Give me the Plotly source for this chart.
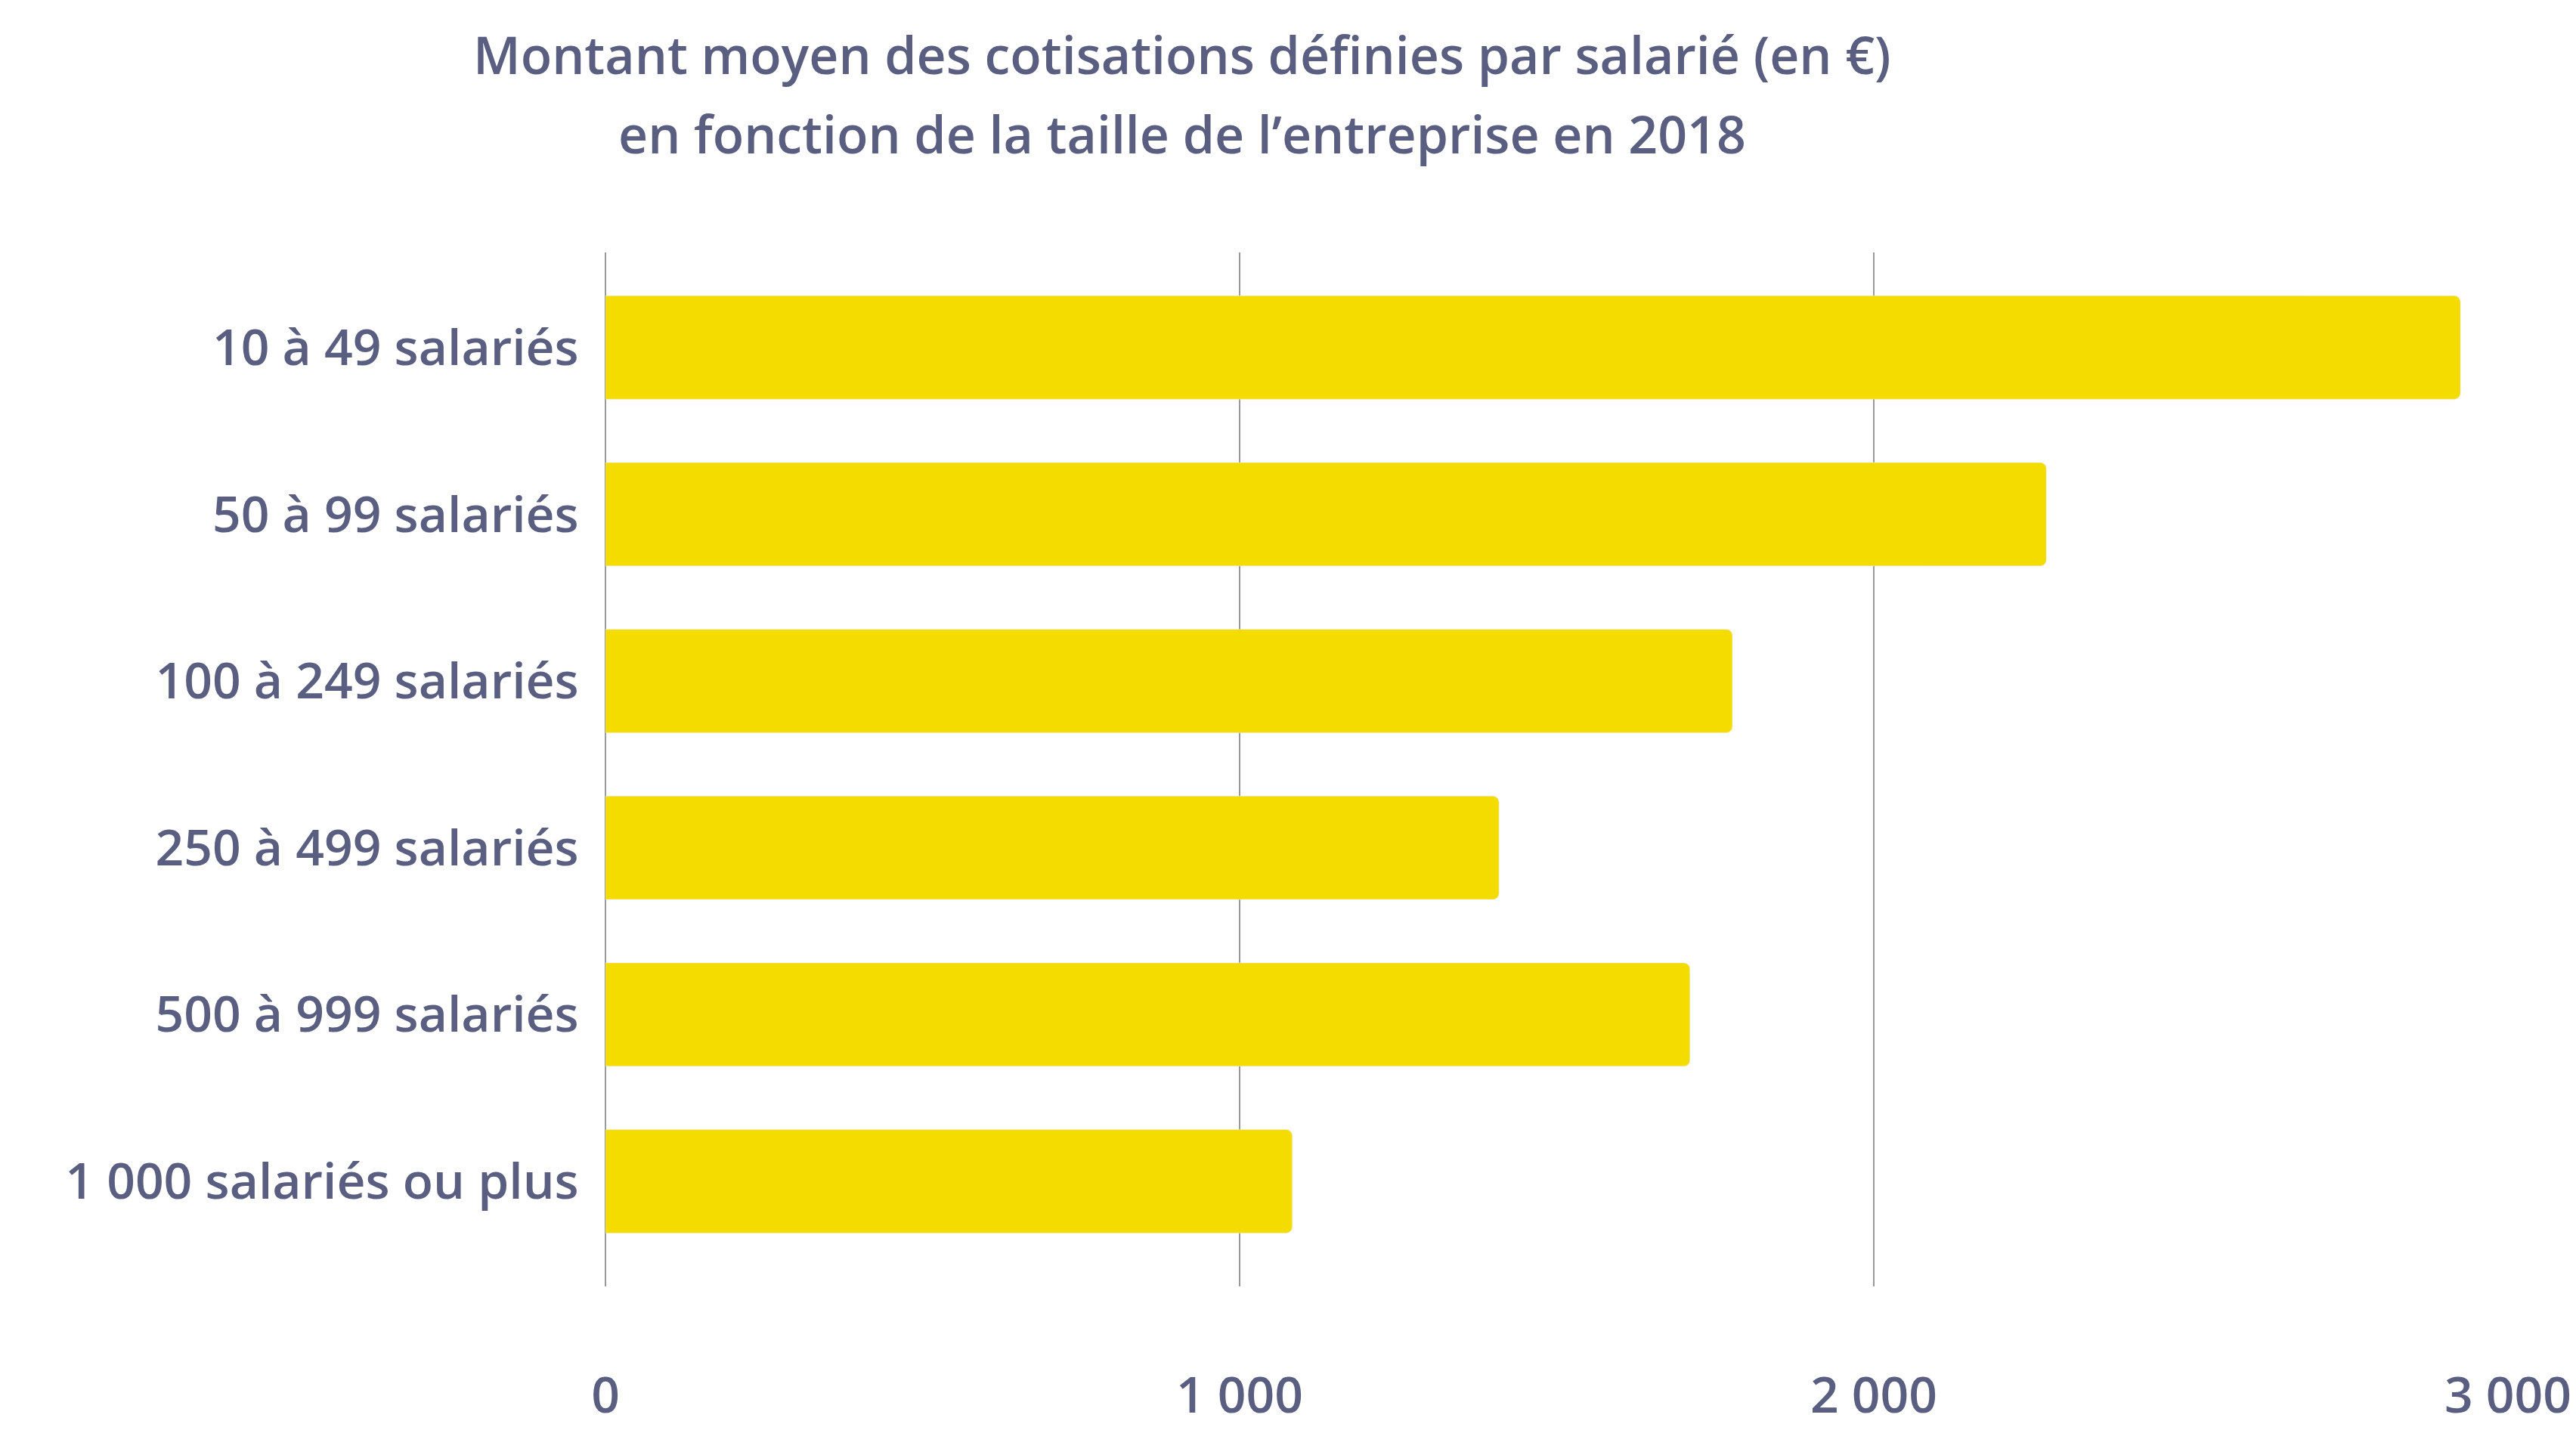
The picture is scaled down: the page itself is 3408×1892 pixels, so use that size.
import plotly.graph_objects as go

categories = ["10 à 49 salariés", "50 à 99 salariés", "100 à 249 salariés",
              "250 à 499 salariés", "500 à 999 salariés", "1 000 salariés ou plus"]
values = [2925, 2272, 1777, 1409, 1710, 1083]
tick_vals = [0, 1000, 2000, 3000]
tick_text = ["0", "1 000", "2 000", "3 000"]

TXT = "#5a5f82"

fig = go.Figure(go.Bar(
    x=values, y=categories, orientation="h",
    marker=dict(color="#f5dc00", cornerradius=8),
))

fig.update_layout(
    width=3408, height=1892,
    paper_bgcolor="white", plot_bgcolor="white",
    font=dict(family="Open Sans", color=TXT, size=66, weight=600),
    margin=dict(l=793, r=98, t=326, b=186),
    bargap=0.38,
    showlegend=False,
)
title_lines = ["Montant moyen des cotisations définies par salarié (en €)",
               "en fonction de la taille de l’entreprise en 2018"]
for i, line in enumerate(title_lines):
    fig.add_annotation(
        text=line, xref="paper", yref="paper",
        x=0.303, xanchor="center",
        y=1 + (265 - 106 * i) / 1380, yanchor="middle",
        showarrow=False, font=dict(size=68, color=TXT, weight=600),
    )
fig.update_xaxes(
    range=[0, 3000], tickvals=tick_vals, ticktext=tick_text,
    showgrid=True, gridcolor="#9a9a9a", gridwidth=2,
    zeroline=True, zerolinecolor="#9a9a9a", zerolinewidth=2,
    ticklabelstandoff=100, tickfont=dict(size=66, color=TXT, weight=600),
)
fig.update_yaxes(
    categoryorder="array", categoryarray=categories,
    range=[5.63, -0.57], ticksuffix="  ",
    tickfont=dict(size=66, color=TXT, weight=600),
)

fig.write_html("out.html")
